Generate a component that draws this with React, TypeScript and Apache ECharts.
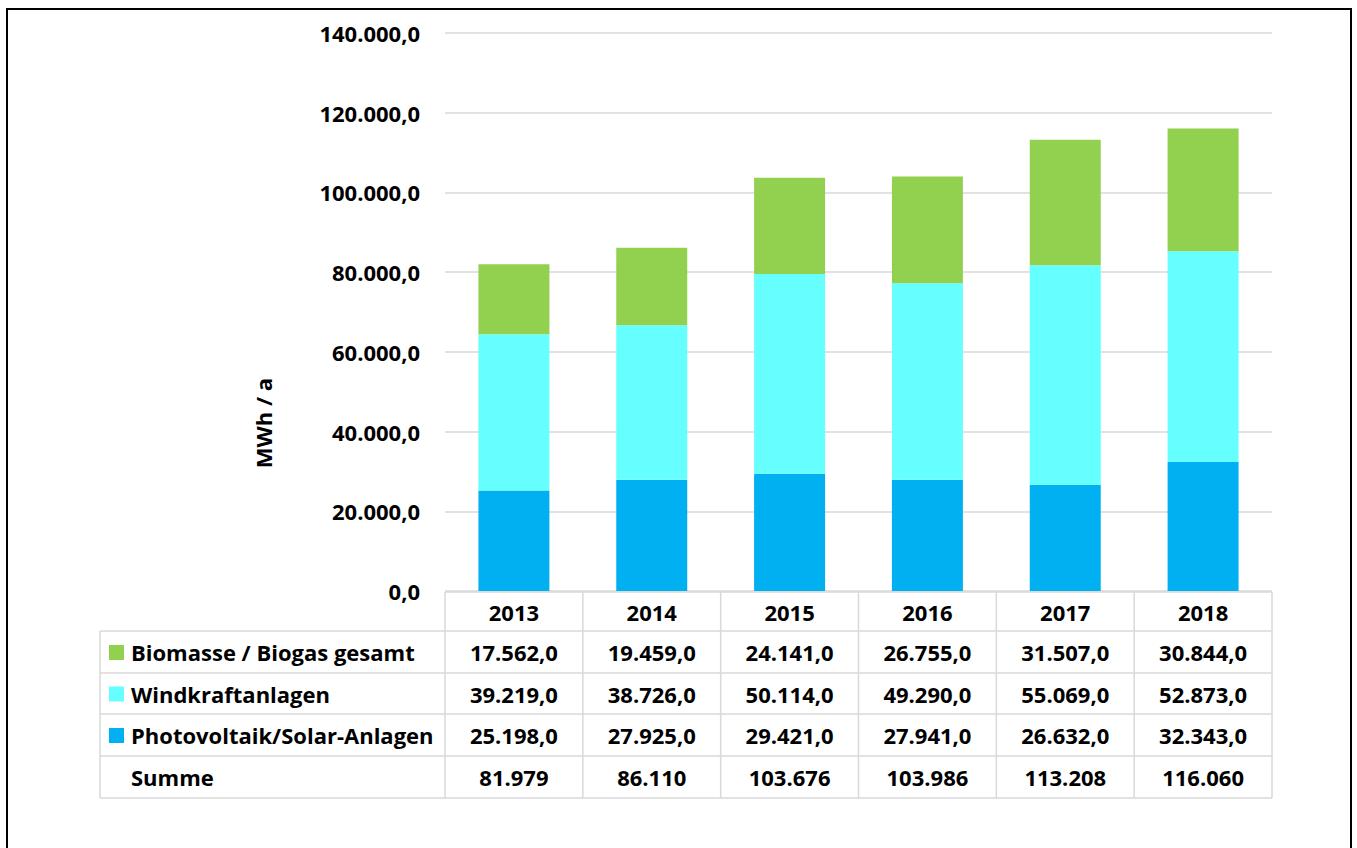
import React, { useEffect, useRef } from "react";
import * as echarts from "echarts";

// Energy generation from renewables, MWh per year
const years = ["2013", "2014", "2015", "2016", "2017", "2018"];
const biomasse = [17562, 19459, 24141, 26755, 31507, 30844];
const windkraft = [39219, 38726, 50114, 49290, 55069, 52873];
const photovoltaik = [25198, 27925, 29421, 27941, 26632, 32343];

const seriesNames = [
  "Biomasse / Biogas gesamt",
  "Windkraftanlagen",
  "Photovoltaik/Solar-Anlagen",
];
const seriesColors = ["#92D050", "#66FFFF", "#00B0F0"];
const sumLabel = "Summe";
const yTitle = "MWh / a";

const Y_MAX = 140000;
const Y_STEP = 20000;

// layout
const W = 1357;
const H = 848;
const GRID_L = 445;
const GRID_R = 1272;
const GRID_T = 33;
const GRID_B = 591;
const TABLE_L = 100;
const HEADER_TOP = 592;
const ROW_LINES = [631, 673, 714, 756, 798];
const FONT = "'Open Sans', Lato, 'DejaVu Sans', sans-serif";
const FONT_SIZE = 22;
const GRID_COLOR = "#d9d9d9";

function fmt(v: number, decimals: number): string {
  const fixed = v.toFixed(decimals);
  const [intPart, decPart] = fixed.split(".");
  const grouped = intPart.replace(/\B(?=(\d{3})+(?!\d))/g, ".");
  return decPart ? grouped + "," + decPart : grouped;
}

function buildTable(): any[] {
  const els: any[] = [];
  const colW = (GRID_R - GRID_L) / years.length;
  const line = (x1: number, y1: number, x2: number, y2: number) => ({
    type: "line",
    shape: { x1, y1, x2, y2 },
    style: { stroke: GRID_COLOR, lineWidth: 1.5 },
    silent: true,
  });
  const text = (
    x: number,
    y: number,
    t: string,
    align: string = "center"
  ) => ({
    type: "text",
    x,
    y,
    style: {
      text: t,
      fill: "#000",
      font: `bold ${FONT_SIZE}px ${FONT}`,
      align,
      verticalAlign: "middle",
    },
    silent: true,
  });

  // grid lines of the data table
  els.push(line(GRID_L, HEADER_TOP, GRID_R, HEADER_TOP));
  ROW_LINES.forEach((y) => els.push(line(TABLE_L, y, GRID_R, y)));
  els.push(line(TABLE_L, ROW_LINES[0], TABLE_L, ROW_LINES[ROW_LINES.length - 1]));
  for (let k = 0; k <= years.length; k++) {
    const x = GRID_L + k * colW;
    els.push(line(x, HEADER_TOP, x, ROW_LINES[ROW_LINES.length - 1]));
  }

  // header with years
  years.forEach((yr, i) => {
    els.push(text(GRID_L + (i + 0.5) * colW, (HEADER_TOP + ROW_LINES[0]) / 2, yr));
  });

  const rows = [biomasse, windkraft, photovoltaik];
  rows.forEach((vals, r) => {
    const cy = (ROW_LINES[r] + ROW_LINES[r + 1]) / 2;
    els.push({
      type: "rect",
      shape: { x: 109, y: cy - 7, width: 15, height: 15 },
      style: { fill: seriesColors[r] },
      silent: true,
    });
    els.push(text(131, cy, seriesNames[r], "left"));
    vals.forEach((v, i) => {
      els.push(text(GRID_L + (i + 0.5) * colW, cy, fmt(v, 1)));
    });
  });

  // totals row
  const sumY = (ROW_LINES[3] + ROW_LINES[4]) / 2;
  els.push(text(131, sumY, sumLabel, "left"));
  years.forEach((_, i) => {
    const total = biomasse[i] + windkraft[i] + photovoltaik[i];
    els.push(text(GRID_L + (i + 0.5) * colW, sumY, fmt(total, 0)));
  });

  // axis title
  els.push({
    type: "text",
    x: 263,
    y: 423,
    rotation: Math.PI / 2,
    style: {
      text: yTitle,
      fill: "#000",
      font: `bold ${FONT_SIZE}px ${FONT}`,
      align: "center",
      verticalAlign: "middle",
    },
    silent: true,
  });

  // outer frame
  els.push({
    type: "rect",
    shape: { x: 7, y: 9, width: 1344, height: 900 },
    style: { fill: "none", stroke: "#000", lineWidth: 2 },
    silent: true,
  });
  return els;
}

export default function App() {
  const ref = useRef<HTMLDivElement>(null);

  useEffect(() => {
    document.body.style.margin = "0";
    if (!ref.current) return;
    const chart = echarts.init(ref.current, undefined, { renderer: "svg" });
    const stacked = [photovoltaik, windkraft, biomasse];
    const stackedNames = [seriesNames[2], seriesNames[1], seriesNames[0]];
    const stackedColors = [seriesColors[2], seriesColors[1], seriesColors[0]];
    chart.setOption({
      animation: false,
      backgroundColor: "#fff",
      grid: {
        left: GRID_L,
        right: W - GRID_R,
        top: GRID_T,
        bottom: H - GRID_B,
        containLabel: false,
      },
      xAxis: {
        type: "category",
        data: years,
        axisLine: { show: false },
        axisTick: { show: false },
        axisLabel: { show: false },
      },
      yAxis: {
        type: "value",
        min: 0,
        max: Y_MAX,
        interval: Y_STEP,
        axisLine: { show: false },
        axisTick: { show: false },
        axisLabel: {
          margin: 25,
          color: "#000",
          fontWeight: "bold",
          fontSize: FONT_SIZE,
          fontFamily: FONT,
          formatter: (v: number) => fmt(v, 1),
        },
        splitLine: { lineStyle: { color: GRID_COLOR, width: 1.5 } },
      },
      series: stacked.map((d, i) => ({
        name: stackedNames[i],
        type: "bar",
        stack: "total",
        data: d,
        barCategoryGap: "48.5%",
        itemStyle: { color: stackedColors[i] },
      })),
      graphic: buildTable(),
    });
    return () => chart.dispose();
  }, []);

  return <div ref={ref} style={{ width: W, height: H }} />;
}
